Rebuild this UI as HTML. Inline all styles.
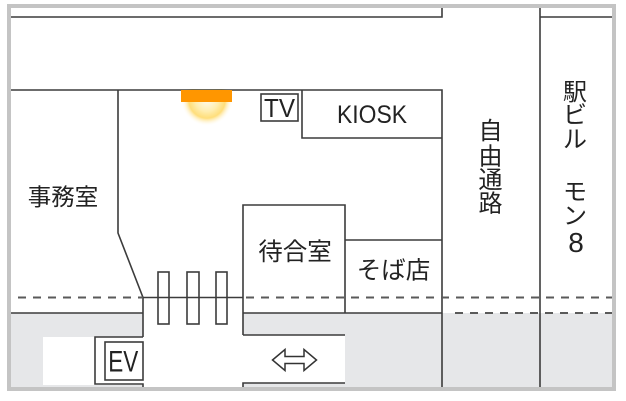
<!DOCTYPE html>
<html>
<head>
<meta charset="utf-8">
<style>
  html, body { margin: 0; padding: 0; background: #ffffff; }
  svg { display: block; }
  text { font-family: "Liberation Sans", "Noto Sans CJK JP", sans-serif; fill: #222; }
</style>
</head>
<body>
<svg width="626" height="401" viewBox="0 0 626 401" xmlns="http://www.w3.org/2000/svg">
  <defs>
    <radialGradient id="glow" cx="207" cy="100" r="26" gradientUnits="userSpaceOnUse">
      <stop offset="0" stop-color="#fff8e0" stop-opacity="0.7"/>
      <stop offset="0.45" stop-color="#ffeaa0" stop-opacity="0.85"/>
      <stop offset="0.7" stop-color="#ffd34f" stop-opacity="0.75"/>
      <stop offset="1" stop-color="#ffffff" stop-opacity="0"/>
    </radialGradient>
    <clipPath id="belowLine">
      <rect x="170" y="89" width="80" height="45"/>
    </clipPath>
  </defs>

  <rect x="0" y="0" width="626" height="401" fill="#ffffff"/>

  <!-- gray floor fills -->
  <rect x="11" y="313" width="132" height="74" fill="#e6e7e9"/>
  <rect x="43" y="337" width="100" height="48" fill="#ffffff"/>
  <rect x="243" y="313" width="369" height="74" fill="#e6e7e9"/>
  <rect x="243" y="335" width="102" height="48" fill="#ffffff"/>

  <!-- outer frame -->
  <rect x="9" y="6" width="605" height="383" fill="none" stroke="#c4c4c4" stroke-width="4"/>

  <!-- glow + light -->
  <circle cx="207" cy="100" r="26" fill="url(#glow)" clip-path="url(#belowLine)"/>

  <g fill="none" stroke="#3c3c3c" stroke-width="1.6">
    <path d="M11 17 H442 V8"/>
    <path d="M540 8 V387"/>
    <path d="M540 17 H612"/>
    <path d="M11 90 H442 V387"/>
    <path d="M302 90 V138 H442"/>
    <rect x="261" y="94" width="37" height="27"/>
    <path d="M118 90 V233 L143 297.5 V337"/>
    <path d="M143 337 H95 V384 H143 V387"/>
    <rect x="105" y="342" width="38" height="38"/>
    <path d="M11 313 H143"/>
    <path d="M143 297.5 H243"/>
    <path d="M243 335 V205 H345 V313"/>
    <path d="M243 313 H442"/>
    <path d="M243 335 H345"/>
    <path d="M243 387 V383 H345"/>
    <path d="M345 240 H442"/>
    <rect x="158" y="272" width="11" height="52"/>
    <rect x="187" y="272" width="12" height="52"/>
    <rect x="216" y="272" width="11" height="52"/>
  </g>

  <!-- dashed lines -->
  <g fill="none" stroke="#5a5a5a" stroke-width="2" stroke-dasharray="8 7">
    <path d="M18 297.5 H143"/>
    <path d="M246 297.5 H612"/>
    <path d="M455 313 H612"/>
  </g>

  <!-- orange light bar -->
  <rect x="181" y="90" width="51" height="12" fill="#ff9600"/>

  <!-- double arrow -->
  <path d="M272.5 360 L285 349.5 L285 356.5 L304 356.5 L304 349.5 L316.5 360 L304 370.5 L304 363.5 L285 363.5 L285 370.5 Z"
        fill="#ffffff" stroke="#333" stroke-width="1.5" stroke-linejoin="miter"/>

  <!-- labels -->
  <text x="372" y="123" font-size="25" text-anchor="middle" textLength="70" lengthAdjust="spacingAndGlyphs">KIOSK</text>
  <text x="279.5" y="117" font-size="26" text-anchor="middle" textLength="31" lengthAdjust="spacingAndGlyphs">TV</text>
  <text x="123.3" y="371.5" font-size="30" text-anchor="middle" textLength="30" lengthAdjust="spacingAndGlyphs">EV</text>

  <text x="63" y="205" font-size="23.5" text-anchor="middle">事務室</text>
  <text x="295" y="260" font-size="24.5" text-anchor="middle">待合室</text>
  <text x="393.5" y="278.5" font-size="24.5" text-anchor="middle">そば店</text>

  <g font-size="24" text-anchor="middle">
    <text x="490.5" y="139">自</text>
    <text x="490.5" y="164.5">由</text>
    <text x="490.5" y="188">通</text>
    <text x="490.5" y="211.5">路</text>

    <text x="575" y="100">駅</text>
    <text x="575" y="123">ビ</text>
    <text x="575" y="147.5">ル</text>
    <text x="575" y="200">モ</text>
    <text x="575" y="224">ン</text>
  </g>
  <text x="576" y="252" font-size="28" text-anchor="middle">8</text>
</svg>
</body>
</html>
